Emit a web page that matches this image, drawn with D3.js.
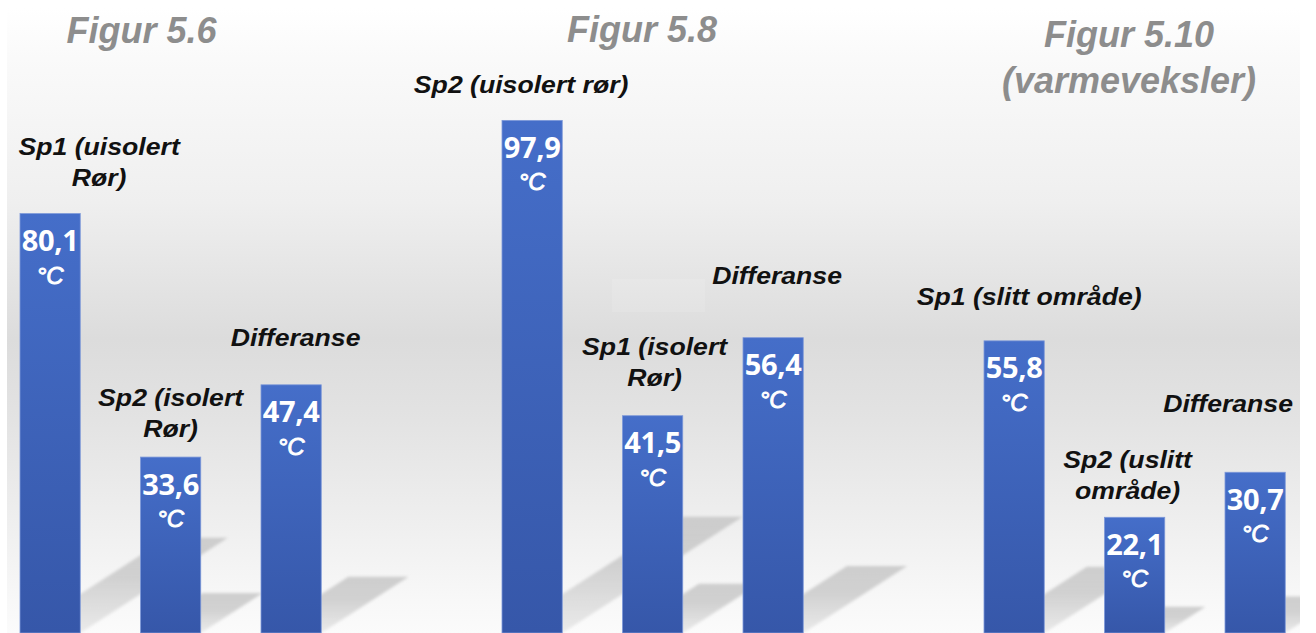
<!DOCTYPE html>
<html>
<head>
<meta charset="utf-8">
<script src="https://cdn.jsdelivr.net/npm/d3@7"></script>
<style>
  html, body { margin: 0; padding: 0; background: #ffffff; }
  svg { display: block; }
</style>
</head>
<body>
<svg id="chart" width="1316" height="633"></svg>
<script>
// Temperatures measured in three test set-ups (°C)
const figureTitles = [["Figur 5.6"], ["Figur 5.8"], ["Figur 5.10", "(varmeveksler)"]];
const figureOf = [0, 0, 0, 1, 1, 1, 2, 2, 2];
const barLabels = [
  ["Sp1 (uisolert", "Rør)"],
  ["Sp2 (isolert", "Rør)"],
  ["Differanse"],
  ["Sp2 (uisolert rør)"],
  ["Sp1 (isolert", "Rør)"],
  ["Differanse"],
  ["Sp1 (slitt område)"],
  ["Sp2 (uslitt", "område)"],
  ["Differanse"]
];
const values = [80.1, 33.6, 47.4, 97.9, 41.5, 56.4, 55.8, 22.1, 30.7];
const valueText = ["80,1", "33,6", "47,4", "97,9", "41,5", "56,4", "55,8", "22,1", "30,7"];
const unit = "°C";

// Slot order along the x axis: a blank slot separates the figures
const slots = ["a0", "a1", "a2", "gap1", "b0", "b1", "b2", "gap2", "c0", "c1", "c2"];
const barSlots = ["a0", "a1", "a2", "b0", "b1", "b2", "c0", "c1", "c2"];

// Placement of the caption boxes relative to bar centre / bar top
const labelDx = [49, 0, 4.5, -11, 2, 4, 15, -7, -27];
const labelDy = [-59, -51, -39, -27, -61, -54, -36, -49, -60];
const lineGap = 31;
const titleCenters = [141.5, 642, 1129];
const titleBaselines = [[42.5], [42], [46.5, 92.5]];

const W = 1316, H = 633;
const baseY = 633;
const svg = d3.select("#chart");
const defs = svg.append("defs");

// background panel gradient
const bg = defs.append("linearGradient").attr("id", "bgGrad")
  .attr("x1", 0).attr("y1", 0).attr("x2", 0).attr("y2", 1);
[[0, "#ffffff"], [0.08, "#fafafa"], [0.31, "#efefef"], [0.53, "#dcdcdc"],
 [0.66, "#e3e3e3"], [0.8, "#ededed"], [0.95, "#f8f8f8"], [1, "#fbfbfb"]]
  .forEach(([o, c]) => bg.append("stop").attr("offset", o).attr("stop-color", c));

const barGrad = defs.append("linearGradient").attr("id", "barGrad")
  .attr("x1", 0).attr("y1", 0).attr("x2", 0).attr("y2", 1);
barGrad.append("stop").attr("offset", 0).attr("stop-color", "#456ec9");
barGrad.append("stop").attr("offset", 1).attr("stop-color", "#3657a9");

const shGrad = defs.append("linearGradient").attr("id", "shGrad")
  .attr("x1", 0).attr("y1", 1).attr("x2", 0).attr("y2", 0);
shGrad.append("stop").attr("offset", 0).attr("stop-color", "#c4c4c4").attr("stop-opacity", 0.3);
shGrad.append("stop").attr("offset", 0.6).attr("stop-color", "#c2c2c2").attr("stop-opacity", 0.72);
shGrad.append("stop").attr("offset", 1).attr("stop-color", "#c4c4c4").attr("stop-opacity", 0.8);

defs.append("filter").attr("id", "soft").attr("x", "-10%").attr("y", "-20%")
  .attr("width", "120%").attr("height", "140%")
  .append("feGaussianBlur").attr("stdDeviation", 1.8);

defs.append("clipPath").attr("id", "panelClip")
  .append("rect").attr("x", 7).attr("y", 8).attr("width", 1293).attr("height", 625);

svg.append("rect").attr("x", 7).attr("y", 8).attr("width", 1293).attr("height", 625)
  .attr("fill", "url(#bgGrad)");

// an empty, slightly lighter text box
svg.append("rect").attr("x", 612).attr("y", 279).attr("width", 93).attr("height", 33)
  .attr("fill", "#ffffff").attr("opacity", 0.12);

const x = d3.scaleBand().domain(slots).range([20, 1285.25]).paddingInner(0.5).paddingOuter(0);
const y = d3.scaleLinear().domain([0, 100]).range([baseY, 109.4]);

const bars = values.map((v, i) => ({
  v, i, slot: barSlots[i],
  x0: x(barSlots[i]), w: x.bandwidth(), top: y(v), h: baseY - y(v)
}));

// floor shadows cast up and to the right of every bar
const shadowG = svg.append("g").attr("clip-path", "url(#panelClip)")
  .append("g").attr("filter", "url(#soft)");
shadowG.selectAll("path").data(bars).join("path")
  .attr("fill", "url(#shGrad)")
  .attr("d", d => {
    const dy = 0.227 * d.h, dx = 1.55 * dy;
    return `M${d.x0},${baseY}L${d.x0 + d.w},${baseY}L${d.x0 + d.w + dx},${baseY - dy}L${d.x0 + dx},${baseY - dy}Z`;
  });

// bars
svg.append("g").selectAll("rect").data(bars).join("rect")
  .attr("x", d => d.x0).attr("y", d => d.top)
  .attr("width", d => d.w).attr("height", d => d.h)
  .attr("fill", "url(#barGrad)")
  .attr("stroke", "#7d98d9").attr("stroke-width", 0.8);

// helper for horizontally widened text
function stretched(g, txt, cx, by, sx, attrs) {
  const t = g.append("text")
    .attr("transform", `translate(${cx},${by}) scale(${sx},1)`)
    .attr("text-anchor", "middle")
    .text(txt);
  Object.entries(attrs).forEach(([k, v]) => t.attr(k, v));
  return t;
}

// value labels inside bars
const valG = svg.append("g");
bars.forEach(d => {
  const cx = d.x0 + d.w / 2;
  stretched(valG, valueText[d.i], cx, d.top + 37.5, 1.0, {
    "font-family": "'Open Sans', sans-serif", "font-weight": 700,
    "font-size": "29px", "fill": "#ffffff", "letter-spacing": "-0.3px"
  });
  stretched(valG, unit, cx, d.top + 70, 1.0, {
    "font-family": "'Liberation Sans', Arial, sans-serif", "font-style": "italic",
    "font-size": "24px", "fill": "#ffffff", "stroke": "#ffffff", "stroke-width": 0.9
  });
});

// captions above bars
const labG = svg.append("g");
bars.forEach(d => {
  const cx = d.x0 + d.w / 2 + labelDx[d.i];
  const by = d.top + labelDy[d.i];
  barLabels[d.i].forEach((line, k) => {
    stretched(labG, line, cx, by + k * lineGap, 1.11, {
      "font-family": "'Liberation Sans', Arial, sans-serif", "font-style": "italic",
      "font-weight": 700, "font-size": "24px", "fill": "#111111"
    });
  });
});

// figure titles
const titG = svg.append("g");
figureTitles.forEach((lines, f) => {
  lines.forEach((line, k) => {
    stretched(titG, line, titleCenters[f], titleBaselines[f][k], 1.0, {
      "font-family": "'Liberation Sans', Arial, sans-serif", "font-style": "italic",
      "font-weight": 700, "font-size": "36px", "fill": "#8d8d8d"
    });
  });
});
</script>
</body>
</html>
